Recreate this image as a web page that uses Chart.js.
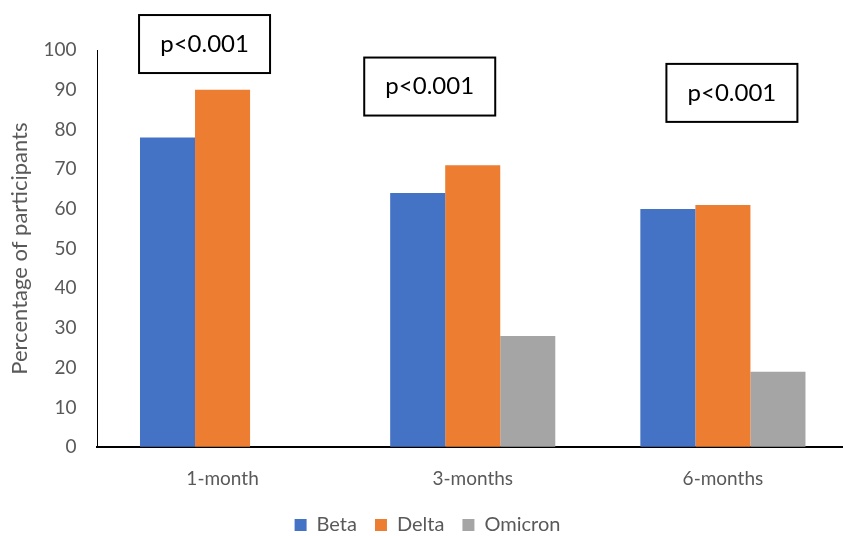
<!DOCTYPE html>
<html lang="en">
<head>
    <meta charset="UTF-8">
    <title>Percentage of participants by variant</title>
    <script src="https://cdn.jsdelivr.net/npm/chart.js"></script>
    <style>
        html, body { margin: 0; padding: 0; overflow: hidden; background: #fff; }
        #wrap { width: 848px; height: 536px; }
    </style>
</head>
<body>
    <div id="wrap"><canvas id="variantChart"></canvas></div>

    <script>
        // chart values
        const categories = ["1-month", "3-months", "6-months"];
        const betaValues = [78, 64, 60];
        const deltaValues = [90, 71, 61];
        const omicronValues = [null, 28, 19];
        const yTicks = [0, 10, 20, 30, 40, 50, 60, 70, 80, 90, 100];

        // p-value boxes: text, horizontal shift from category centre (px), level on y scale
        const pLabels = ["p<0.001", "p<0.001", "p<0.001"];
        const pShift = [-18, -43, 9];
        const pLevel = [101.5, 90.8, 89.2];

        const textColor = "#595959";
        const fontFamily = "Lato, 'Open Sans', sans-serif";

        const pBoxes = {
            id: "pBoxes",
            afterDraw(chart) {
                const ctx = chart.ctx;
                const xs = chart.scales.x, ys = chart.scales.y;
                ctx.save();
                ctx.font = "24px " + fontFamily;
                ctx.textAlign = "center";
                ctx.textBaseline = "middle";
                pLabels.forEach(function (txt, i) {
                    const cx = xs.getPixelForValue(i) + pShift[i];
                    const cy = ys.getPixelForValue(pLevel[i]);
                    const w = 131, h = 58;
                    ctx.fillStyle = "#fff";
                    ctx.fillRect(cx - w / 2, cy - h / 2, w, h);
                    ctx.strokeStyle = "#000";
                    ctx.lineWidth = 2;
                    ctx.strokeRect(cx - w / 2, cy - h / 2, w, h);
                    ctx.fillStyle = "#000";
                    ctx.fillText(txt, cx, cy);
                });
                ctx.restore();
            }
        };

        new Chart(document.getElementById("variantChart"), {
            type: "bar",
            data: {
                labels: categories,
                datasets: [
                    { label: "Beta", data: betaValues, backgroundColor: "#4472C4" },
                    { label: "Delta", data: deltaValues, backgroundColor: "#ED7D31" },
                    { label: "Omicron", data: omicronValues, backgroundColor: "#A5A5A5" }
                ]
            },
            options: {
                responsive: true,
                maintainAspectRatio: false,
                animation: false,
                layout: { padding: { top: 50, left: 7, right: 0, bottom: -9 } },
                datasets: { bar: { categoryPercentage: 0.66, barPercentage: 1.0 } },
                scales: {
                    x: {
                        grid: { display: false },
                        border: { display: true, color: "#000", width: 2 },
                        ticks: { color: textColor, font: { family: fontFamily, size: 19 }, padding: 12 },
                        afterFit(axis) { axis.height -= 5; }
                    },
                    y: {
                        min: 0,
                        max: 100,
                        afterBuildTicks(axis) { axis.ticks = yTicks.map(v => ({ value: v })); },
                        grid: { display: true, color: "rgba(0,0,0,0)", drawOnChartArea: false, drawTicks: true, tickLength: 11 },
                        border: { display: true, color: "#000", width: 1 },
                        ticks: { color: textColor, font: { family: fontFamily, size: 19 }, padding: 10 },
                        title: {
                            display: true,
                            text: "Percentage of participants",
                            color: textColor,
                            font: { family: fontFamily, size: 22 },
                            padding: { top: 0, bottom: 0 }
                        }
                    }
                },
                plugins: {
                    legend: {
                        position: "bottom",
                        labels: {
                            color: textColor,
                            font: { family: fontFamily, size: 20 },
                            boxWidth: 12,
                            boxHeight: 12,
                            padding: 18
                        }
                    },
                    tooltip: { enabled: false }
                }
            },
            plugins: [pBoxes]
        });
    </script>
</body>
</html>
